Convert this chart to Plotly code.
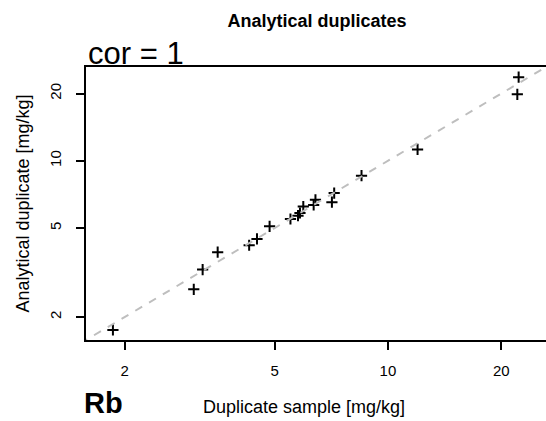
import plotly.graph_objects as go

# Rb duplicates (mg/kg)
dup_sample = [1.86, 3.05, 3.22, 3.53, 4.28, 4.49, 4.85, 5.51, 5.77, 5.84,
              5.96, 6.35, 6.42, 7.10, 7.20, 8.51, 11.99, 22.07, 22.25]
analytical_dup = [1.75, 2.66, 3.26, 3.90, 4.19, 4.47, 5.09, 5.49, 5.68, 5.84,
                  6.24, 6.35, 6.69, 6.53, 7.17, 8.58, 11.25, 19.84, 23.69]
tick_vals = [2, 5, 10, 20]
one_to_one = [1, 40]

FONT = "Liberation Sans, Arial, sans-serif"

fig = go.Figure()

fig.add_trace(go.Scatter(
    x=dup_sample, y=analytical_dup,
    mode="markers",
    marker=dict(symbol="cross-thin", size=8, color="black",
                line=dict(color="black", width=2)),
    showlegend=False,
))

# 1:1 line drawn on top of the points
fig.add_trace(go.Scatter(
    x=one_to_one, y=one_to_one,
    mode="lines",
    line=dict(color="#bebebe", width=2, dash="8px,8px"),
    showlegend=False, hoverinfo="skip",
))

axis_common = dict(
    type="log",
    range=[0.198, 1.42],
    tickvals=tick_vals,
    ticktext=[str(v) for v in tick_vals],
    ticks="outside", ticklen=8, tickwidth=2, tickcolor="black",
    showline=True, linecolor="black", linewidth=2,
    showgrid=False, zeroline=False,
    tickfont=dict(family=FONT, size=15, color="black"),
)

fig.update_layout(
    width=546, height=421,
    margin=dict(l=86, r=0, t=67, b=81),
    paper_bgcolor="white", plot_bgcolor="white",
    font=dict(family=FONT, color="black"),
    title=dict(text="<b>Analytical duplicates</b>", x=317 / 546, y=1 - 21 / 421,
               xref="container", yref="container",
               xanchor="center", yanchor="middle",
               font=dict(family=FONT, size=18, color="black")),
    xaxis=dict(**axis_common, mirror=True, ticklabelstandoff=8),
    yaxis=dict(**axis_common, tickangle=-90, ticklabelstandoff=9),
    annotations=[
        dict(text="cor = 1", x=0, y=(340 - 54) / 273, xref="paper", yref="paper",
             xanchor="left", yanchor="middle", showarrow=False,
             font=dict(family=FONT, size=31, color="black")),
        dict(text="<b>Rb</b>", x=-0.009, y=(340 - 403) / 273, xref="paper", yref="paper",
             xanchor="left", yanchor="middle", showarrow=False,
             font=dict(family=FONT, size=29, color="black")),
        dict(text="Duplicate sample [mg/kg]", x=(304 - 86) / 460, y=(340 - 407) / 273,
             xref="paper", yref="paper", xanchor="center", yanchor="middle",
             showarrow=False, font=dict(family=FONT, size=18, color="black")),
        dict(text="Analytical duplicate [mg/kg]", x=(22 - 86) / 460, y=0.5,
             xref="paper", yref="paper", xanchor="center", yanchor="middle",
             textangle=-90, showarrow=False,
             font=dict(family=FONT, size=18, color="black")),
    ],
)

fig.write_html("out.html", config={"displayModeBar": False},
               post_script="document.body.style.margin='0';")
